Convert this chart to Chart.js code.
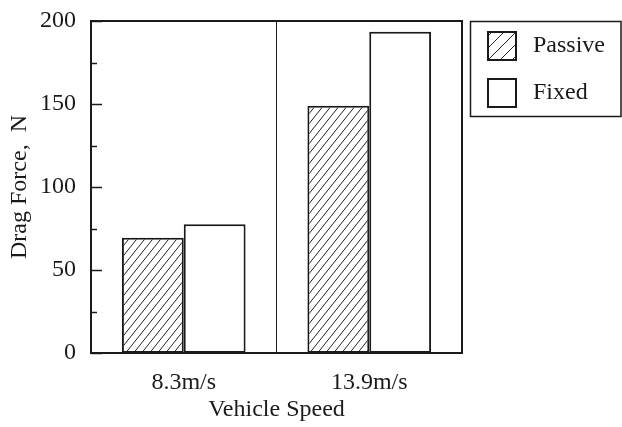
<!DOCTYPE html>
<html>
<head>
<meta charset="utf-8">
<script src="https://cdn.jsdelivr.net/npm/chart.js@4.4.1/dist/chart.umd.min.js"></script>
<style>
  html, body { margin: 0; padding: 0; background: #fff; }
  #wrap { width: 622px; height: 427px; }
</style>
</head>
<body>
<div id="wrap"><canvas id="c" width="622" height="427"></canvas></div>
<script>
// Drag force measured at two vehicle speeds
const speeds = ['8.3m/s', '13.9m/s'];
const passiveForce = [69.5, 149];
const fixedForce = [77.5, 193.5];
const yTicks = [0, 50, 100, 150, 200];

const INK = '#1a1a1a';
const FONT = "'Liberation Serif', 'Times New Roman', serif";

// Diagonal "/" hatching used for the Passive bars
function makeHatch(w, h) {
  const c = document.createElement('canvas');
  c.width = w; c.height = h;
  const g = c.getContext('2d');
  g.fillStyle = '#fff';
  g.fillRect(0, 0, w, h);
  g.strokeStyle = '#222';
  g.lineWidth = 1;
  g.beginPath();
  for (let k = -1; k <= 1; k++) {
    g.moveTo(k * w, h);
    g.lineTo(k * w + w, 0);
  }
  g.stroke();
  return g.createPattern(c, 'repeat');
}
const hatch = makeHatch(8, 10);

// Inward major/minor ticks on the value axis plus the closed frame
const frameAndTicks = {
  id: 'frameAndTicks',
  afterDatasetsDraw(chart) {
    const { ctx, chartArea: a, scales: { y } } = chart;
    ctx.save();
    ctx.strokeStyle = INK;
    ctx.lineWidth = 1.5;
    const step = yTicks[1] - yTicks[0];
    for (let i = 0; i < yTicks.length; i++) {
      const py = Math.round(y.getPixelForValue(yTicks[i])) + 0.5;
      ctx.beginPath();
      ctx.moveTo(a.left, py);
      ctx.lineTo(a.left + 11, py);
      ctx.stroke();
      if (i < yTicks.length - 1) {
        const my = Math.round(y.getPixelForValue(yTicks[i] + step / 2)) + 0.5;
        ctx.beginPath();
        ctx.moveTo(a.left, my);
        ctx.lineTo(a.left + 6, my);
        ctx.stroke();
      }
    }
    ctx.lineWidth = 2;
    ctx.strokeRect(a.left, a.top, a.right - a.left, a.bottom - a.top);
    ctx.restore();
  }
};

// Boxed legend to the right of the plot
const boxLegend = {
  id: 'boxLegend',
  afterDraw(chart) {
    const { ctx, chartArea: a } = chart;
    const x0 = a.right + 8, y0 = a.top, w = 152, h = 95;
    ctx.save();
    ctx.strokeStyle = INK;
    ctx.lineWidth = 1.5;
    ctx.strokeRect(x0 + 0.5, y0 + 0.5, w - 1.5, h);
    chart.data.datasets.forEach((ds, i) => {
      const sx = x0 + 18, sy = y0 + 11 + i * 47, s = 28;
      ctx.fillStyle = '#fff';
      ctx.fillRect(sx, sy, s, s);
      if (ds.hatched) {
        ctx.save();
        ctx.beginPath();
        ctx.rect(sx, sy, s, s);
        ctx.clip();
        ctx.lineWidth = 1;
        ctx.strokeStyle = '#222';
        ctx.beginPath();
        for (let k = -2; k <= 3; k++) {
          ctx.moveTo(sx + k * 12, sy + s);
          ctx.lineTo(sx + k * 12 + s, sy);
        }
        ctx.stroke();
        ctx.restore();
      }
      ctx.lineWidth = 2;
      ctx.strokeRect(sx, sy, s, s);
      ctx.fillStyle = INK;
      ctx.font = '24px ' + FONT;
      ctx.textBaseline = 'middle';
      ctx.textAlign = 'left';
      ctx.fillText(ds.label, sx + s + 17, sy + s / 2);
    });
    ctx.restore();
  }
};

new Chart(document.getElementById('c'), {
  type: 'bar',
  data: {
    labels: speeds,
    datasets: [
      {
        label: 'Passive',
        data: passiveForce,
        backgroundColor: hatch,
        borderColor: INK,
        borderWidth: 2,
        borderSkipped: false,
        hatched: true
      },
      {
        label: 'Fixed',
        data: fixedForce,
        backgroundColor: '#fff',
        borderColor: INK,
        borderWidth: 2,
        borderSkipped: false
      }
    ]
  },
  options: {
    responsive: false,
    animation: false,
    devicePixelRatio: 1,
    layout: { padding: { top: 21, right: 160, left: 0, bottom: 0 } },
    datasets: { bar: { categoryPercentage: 2 / 3, barPercentage: 1 } },
    plugins: { legend: { display: false }, tooltip: { enabled: false } },
    scales: {
      x: {
        afterFit(scale) { scale.height = 74; scale.paddingLeft = 0; scale.paddingRight = 0; },
        grid: { display: true, offset: true, drawOnChartArea: true, drawTicks: false, color: INK, lineWidth: 1 },
        border: { display: true, color: INK, width: 2 },
        ticks: { color: INK, font: { family: FONT, size: 24 }, padding: 15 },
        title: { display: true, text: 'Vehicle Speed', color: INK, font: { family: FONT, size: 24 }, padding: { top: 0, bottom: 3 } }
      },
      y: {
        min: 0,
        max: 200,
        afterFit(scale) { scale.width = 91; scale.paddingTop = 0; scale.paddingBottom = 0; },
        afterBuildTicks(scale) { scale.ticks = yTicks.map(v => ({ value: v })); },
        grid: { display: false, drawTicks: false },
        border: { display: true, color: INK, width: 2 },
        ticks: { color: INK, font: { family: FONT, size: 24 }, padding: 15 },
        title: { display: true, text: 'Drag Force,  N', color: INK, font: { family: FONT, size: 24 }, padding: { top: 5, bottom: 0 } }
      }
    }
  },
  plugins: [frameAndTicks, boxLegend]
});
</script>
</body>
</html>
